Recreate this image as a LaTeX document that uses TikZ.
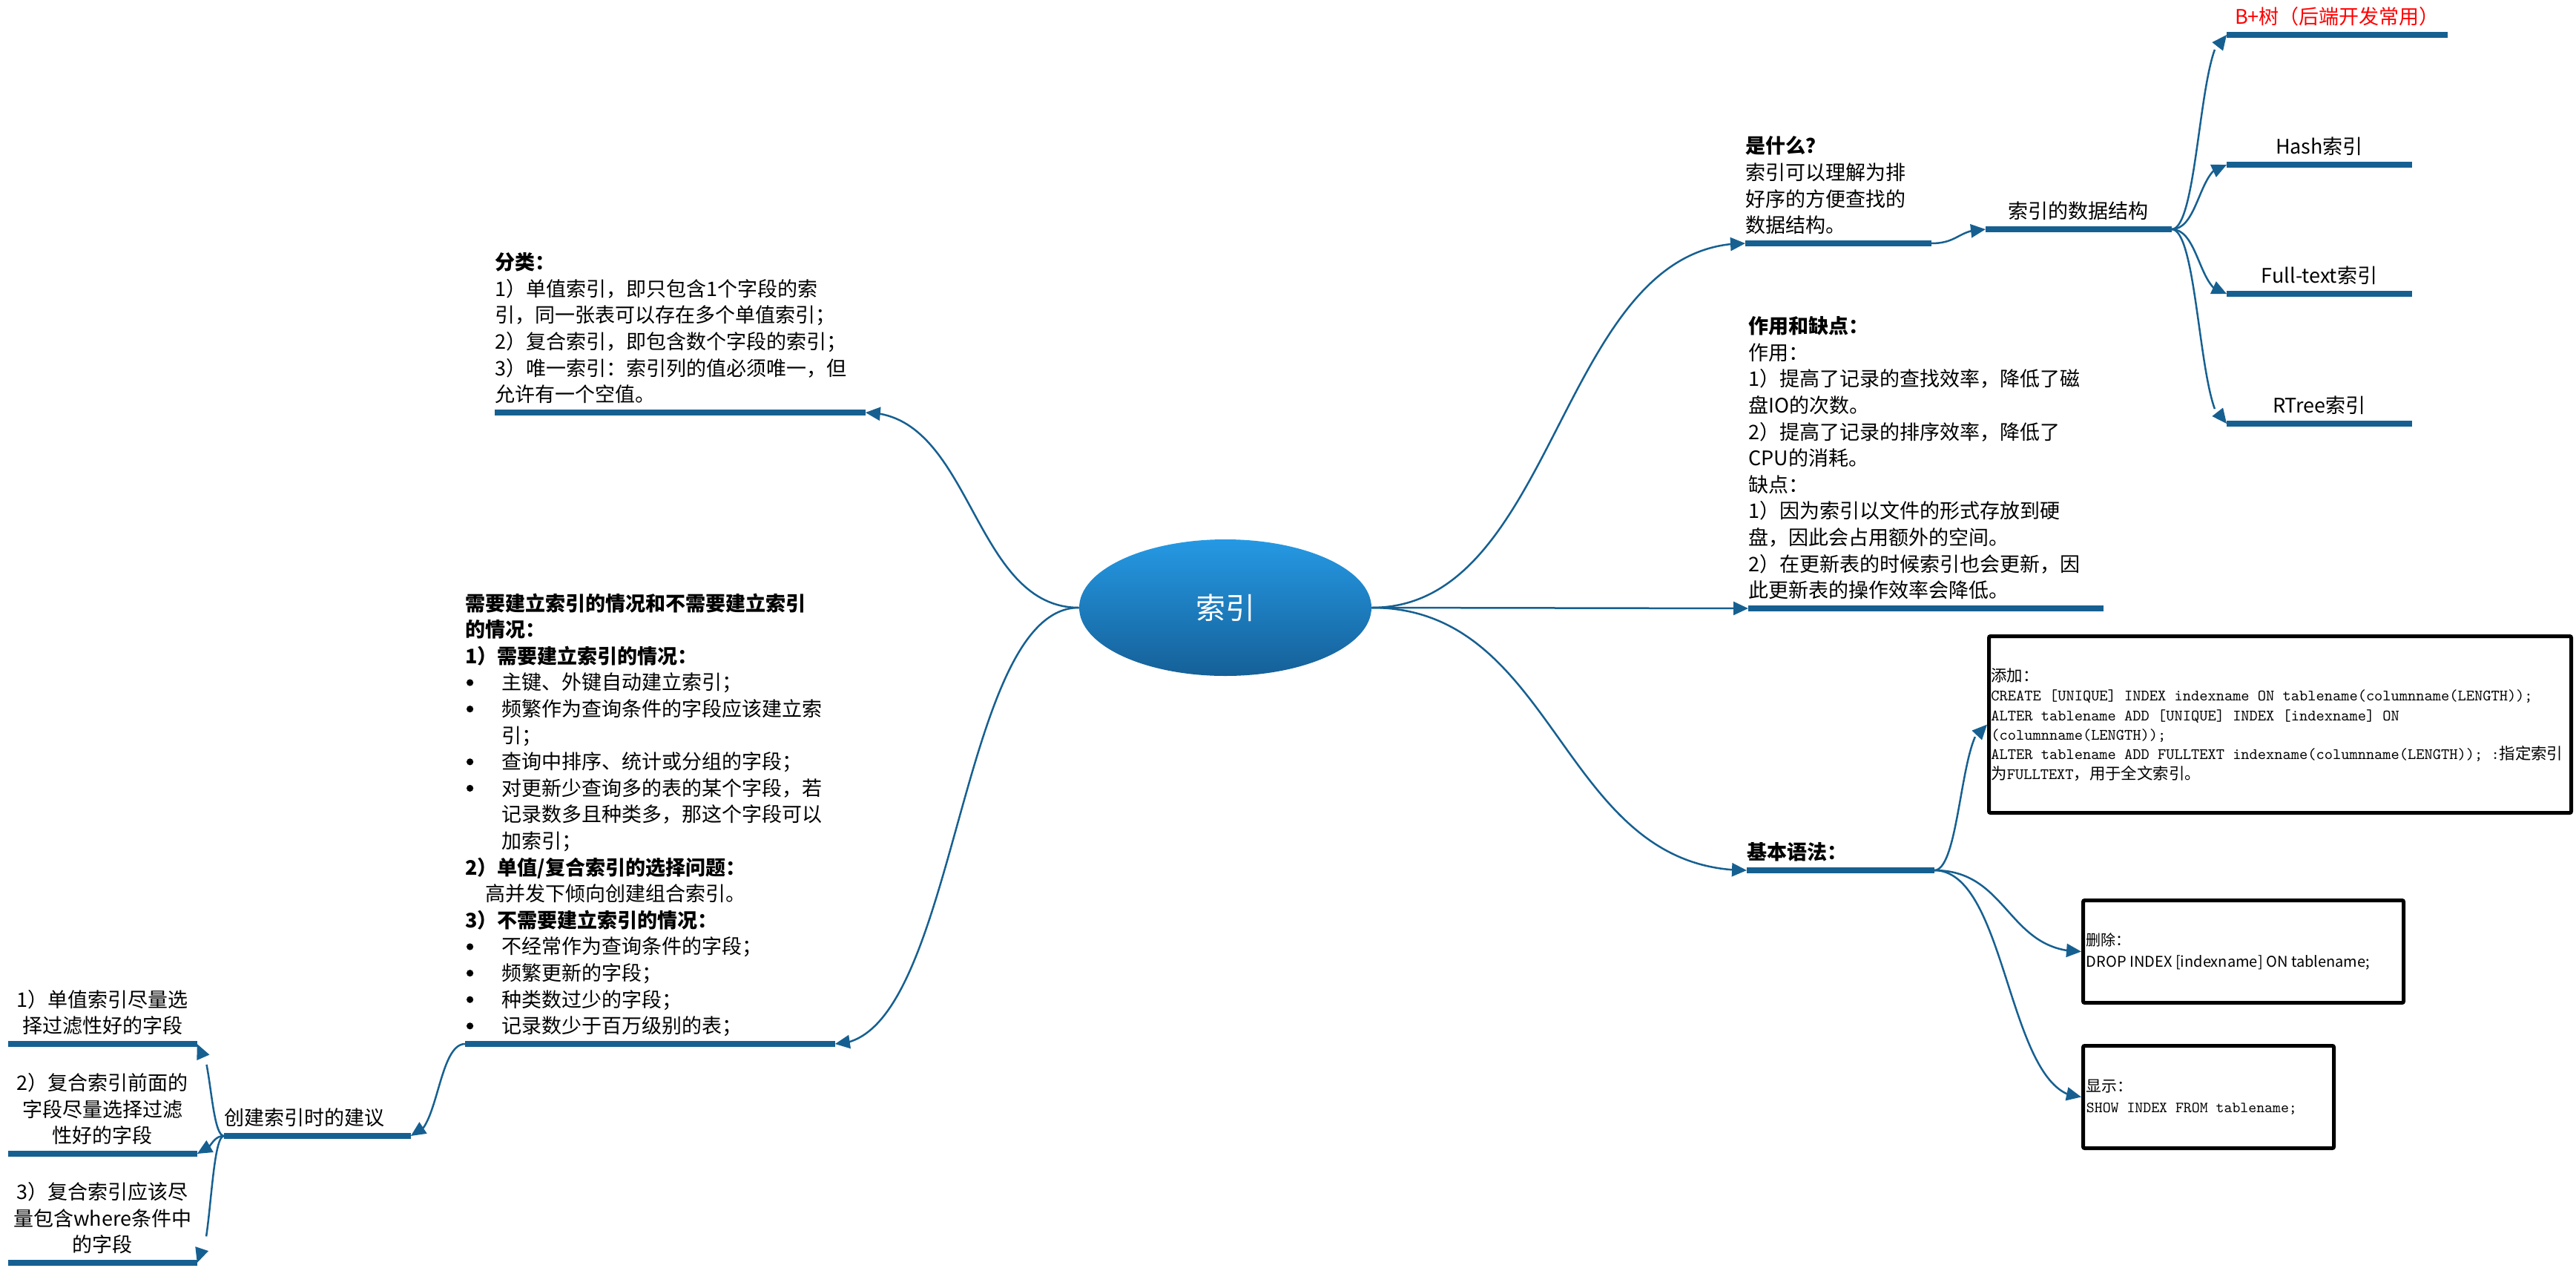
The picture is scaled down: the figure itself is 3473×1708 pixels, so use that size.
\documentclass[tikz,border=0pt]{standalone}
\usepackage{fontspec}
\setmainfont{Noto Sans CJK SC}
\usetikzlibrary{arrows.meta,bending,shapes.geometric}
\definecolor{lineblue}{RGB}{22,96,145}
\definecolor{topblue}{RGB}{37,153,228}
\definecolor{botblue}{RGB}{21,96,152}
\newcommand\bodyfont{\fontsize{13.5pt}{17.8pt}\selectfont}
\newcommand\bul{\makebox[24.5pt][l]{\hspace{0.8pt}\raisebox{2.6pt}{\tikz\fill[black] (0,0) circle (2.3pt);}}}
\newcommand\ind{\hspace*{24.5pt}}
\newcommand\cod[1]{{\ttfamily #1}}
\tikzset{
  topic/.style={anchor=south west, inner sep=0pt, text width=#1, align=left, font=\bodyfont,
    execute at end node={\rule[-7pt]{0pt}{7pt}}},
  ctopic/.style={topic=#1, align=center},
  bar/.style={draw=lineblue, line width=4.25pt},
  conn/.style={draw=lineblue, line width=1.25pt, -{Triangle[length=10pt,width=9pt]}},
  root/.style={ellipse, minimum width=197pt, minimum height=92pt, inner sep=0pt,
    top color=topblue, bottom color=botblue, draw=none, text=white,
    font=\fontsize{20pt}{24pt}\selectfont},
  codebox/.style={draw=black, line width=2.5pt, rectangle, inner sep=0pt, rounded corners=1pt},
  boxtext/.style={anchor=west, inner sep=0pt, align=left}
}
\begin{document}
\begin{tikzpicture}[x=0.5pt, y=-0.5pt]
\useasboundingbox (0,0) rectangle (3473,1708);

% root
\node[root] (root) at (1652,819) {索引};

% left side
\node[topic=249.5pt] (fenlei) at (667,556) {\textbf{分类：}\\
1）单值索引，即只包含1个字段的索\\
引，同一张表可以存在多个单值索引；\\
2）复合索引，即包含数个字段的索引；\\
3）唯一索引：索引列的值必须唯一，但\\
允许有一个空值。};

\node[topic=249pt] (xuyao) at (627,1407) {\textbf{需要建立索引的情况和不需要建立索引}\\
\textbf{的情况：}\\
\textbf{1）需要建立索引的情况：}\\
\bul 主键、外键自动建立索引；\\
\bul 频繁作为查询条件的字段应该建立索\\
\ind 引；\\
\bul 查询中排序、统计或分组的字段；\\
\bul 对更新少查询多的表的某个字段，若\\
\ind 记录数多且种类多，那这个字段可以\\
\ind 加索引；\\
\textbf{2）单值/复合索引的选择问题：}\\
\hspace*{13.5pt}高并发下倾向创建组合索引。\\
\textbf{3）不需要建立索引的情况：}\\
\bul 不经常作为查询条件的字段；\\
\bul 频繁更新的字段；\\
\bul 种类数过少的字段；\\
\bul 记录数少于百万级别的表；};

\node[topic=125.5pt] (jianyi) at (302,1531) {创建索引时的建议};

\node[ctopic=127pt] (leafa) at (11,1407) {1）单值索引尽量选\\择过滤性好的字段};
\node[ctopic=127pt] (leafb) at (11,1555) {2）复合索引前面的\\字段尽量选择过滤\\性好的字段};
\node[ctopic=127pt] (leafc) at (11,1702) {3）复合索引应该尽\\量包含where条件中\\的字段};

% right side
\node[topic=125pt] (shenme) at (2353,328) {\textbf{是什么？}\\索引可以理解为排\\好序的方便查找的\\数据结构。};
\node[ctopic=125pt] (jiegou) at (2677,309) {索引的数据结构};
\node[ctopic=148.5pt, text=red] (bplus) at (3002,47) {B+树（后端开发常用）};
\node[ctopic=124.5pt] (hash) at (3002,222) {Hash索引};
\node[ctopic=124.5pt] (fulltext) at (3002,396) {Full-text索引};
\node[ctopic=124.5pt] (rtree) at (3002,571) {RTree索引};

\node[topic=239pt] (zuoyong) at (2357,820) {\textbf{作用和缺点：}\\
作用：\\
1）提高了记录的查找效率，降低了磁\\
盘IO的次数。\\
2）提高了记录的排序效率，降低了\\
CPU的消耗。\\
缺点：\\
1）因为索引以文件的形式存放到硬\\
盘，因此会占用额外的空间。\\
2）在更新表的时候索引也会更新，因\\
此更新表的操作效率会降低。};

\node[topic=126pt] (jiben) at (2355,1173) {\textbf{基本语法：}};

% code boxes
\node[codebox, minimum width=392.5pt, minimum height=119pt] (tianjia) at (3074,976.5) {};
\node[boxtext, font=\fontsize{10.7pt}{13.2pt}\selectfont] (tianjiat) at ([xshift=2.5pt]tianjia.west) {添加：\\
\cod{CREATE [UNIQUE] INDEX indexname ON tablename(columnname(LENGTH));}\\
\cod{ALTER tablename ADD [UNIQUE] INDEX [indexname] ON}\\
\cod{(columnname(LENGTH));}\\
\cod{ALTER tablename ADD FULLTEXT indexname(columnname(LENGTH)); :}指定索引\\
为\cod{FULLTEXT}，用于全文索引。};

\node[codebox, minimum width=216pt, minimum height=69pt] (shanchu) at (3024.5,1282.5) {};
\node[boxtext, font=\fontsize{10pt}{14.5pt}\selectfont] (shanchut) at ([xshift=3.25pt]shanchu.west) {删除：\\DROP INDEX [indexname] ON tablename;};

\node[codebox, minimum width=169pt, minimum height=69pt] (xianshi) at (2977.5,1478.5) {};
\node[boxtext, font=\fontsize{10.4pt}{14pt}\selectfont] (xianshit) at ([xshift=3.25pt]xianshi.west) {显示：\\\cod{SHOW INDEX FROM tablename;}};

% connectors
\draw[conn] (root.west) .. controls +(-144.5,0) and +(144.5,0) .. (fenlei.south east);
\draw[conn] (root.west) .. controls +(-165,0) and +(165,0) .. (xuyao.south east);
\draw[conn] (root.east) .. controls +(252,0) and +(-252,0) .. (shenme.south west);
\draw[conn] (root.east) -- (zuoyong.south west);
\draw[conn] (root.east) .. controls +(253,0) and +(-253,0) .. (jiben.south west);
\draw[conn] (shenme.south east) .. controls +(37,0) and +(-37,0) .. (jiegou.south west);
\foreach \t in {bplus,hash,fulltext,rtree}
  \draw[conn] (jiegou.south east) .. controls +(37.5,0) and +(-37.5,0) .. (\t.south west);
\draw[conn] (jiben.south east) .. controls +(36,0) and +(-36,0) .. (tianjia.west);
\draw[conn] (jiben.south east) .. controls +(100,0) and +(-100,0) .. (shanchu.west);
\draw[conn] (jiben.south east) .. controls +(100,0) and +(-100,0) .. (xianshi.west);
\draw[conn] (xuyao.south west) .. controls +(-37,0) and +(37,0) .. (jianyi.south east);
\foreach \t in {leafa,leafb,leafc}
  \draw[conn] (jianyi.south west) .. controls +(-18.5,0) and +(18.5,0) .. (\t.south east);

% bars
\foreach \n in {fenlei,xuyao,jianyi,leafa,leafb,leafc,shenme,jiegou,bplus,hash,fulltext,rtree,zuoyong,jiben}
  \draw[bar] (\n.south west) -- (\n.south east);
\end{tikzpicture}
\end{document}
